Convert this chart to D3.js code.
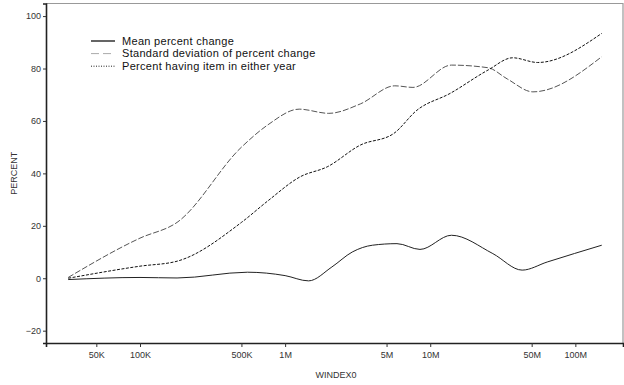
<!DOCTYPE html>
<html>
<head>
<meta charset="utf-8">
<script src="https://cdn.jsdelivr.net/npm/d3@7"></script>
<style>
  body { margin: 0; background: #fff; }
  text { font-family: "Liberation Sans", Arial, sans-serif; }
</style>
</head>
<body>
<div id="chart-area"></div>
<script>
// values
const meanX = [32e3, 1e5, 1.8e5, 5.5e5, 1e6, 1.45e6, 2.1e6, 2.9e6, 4e6, 5.9e6, 8.5e6, 1.4e7, 2.7e7, 4.3e7, 6.4e7, 1.52e8]
const meanY = [-0.5, 0.3, 0.1, 2.3, 1.0, -1.0, 4.3, 10, 12.6, 13.2, 11.0, 16.4, 9.4, 3.1, 6.2, 12.6]

const sdX = [32e3, 1e5, 1.8e5, 5e5, 7.6e5, 1.25e6, 2e6, 3.3e6, 5.7e6, 7.6e6, 1.4e7, 2.5e7, 3.4e7, 5.1e7, 1.52e8]
const sdY = [0.3, 15.3, 21.3, 50, 58.5, 64.5, 62.9, 66.5, 73.4, 72.8, 81.3, 80.3, 76, 71.1, 84.5]

const pctX = [32e3, 1e5, 1.8e5, 5e5, 7.6e5, 1.27e6, 1.95e6, 3.3e6, 5.6e6, 8.1e6, 1.37e7, 2.5e7, 3.7e7, 5.5e7, 1.52e8]
const pctY = [0, 4.6, 6.5, 21.3, 29.5, 38.7, 42.5, 50.8, 55.2, 64.1, 70.5, 79.4, 84.1, 82.3, 93.4]

const xTicks = [5e4, 1e5, 5e5, 1e6, 5e6, 1e7, 5e7, 1e8]
const xTickLabels = ["50K", "100K", "500K", "1M", "5M", "10M", "50M", "100M"]
const yTicks = [-20, 0, 20, 40, 60, 80, 100]

const seriesNames = ["Mean percent change", "Standard deviation of percent change", "Percent having item in either year"]

const W = 624, H = 385
const plot = { left: 46, right: 623, top: 3.5, bottom: 343 }

const svg = d3.select("#chart-area").append("svg")
	.attr("width", W)
	.attr("height", H)

const x = d3.scaleLog()
	.domain([22.5e3, 213e6])
	.range([plot.left, plot.right])

const y = d3.scaleLinear()
	.domain([-24.7, 104.8])
	.range([plot.bottom, plot.top])

// grey frame on top and right
svg.append("path")
	.attr("d", `M${plot.left},${plot.top}H${plot.right}V${plot.bottom}`)
	.attr("fill", "none")
	.attr("stroke", "#999")
	.attr("stroke-width", 1.2)

const axisB = svg.append("g")
	.attr("transform", `translate(0,${plot.bottom})`)
	.call(d3.axisBottom(x).tickValues(xTicks).tickFormat((d, i) => xTickLabels[i]).tickSize(4).tickPadding(5))
const axisL = svg.append("g")
	.attr("transform", `translate(${plot.left},0)`)
	.call(d3.axisLeft(y).tickValues(yTicks).tickSize(3).tickPadding(2))

for (const a of [axisB, axisL]) {
	a.select(".domain").attr("stroke", "#222").attr("stroke-width", 1.6)
	a.selectAll(".tick line").attr("stroke", "#333")
	a.selectAll(".tick text").attr("font-size", "9px").attr("fill", "#333")
		.style("font-family", "'Liberation Sans', Arial, sans-serif")
}

svg.append("text")
	.attr("x", 336)
	.attr("y", 378)
	.attr("text-anchor", "middle")
	.attr("font-size", "9px")
	.attr("fill", "#333")
	.text("WINDEX0")

svg.append("text")
	.attr("transform", `translate(17,${(plot.top + plot.bottom) / 2}) rotate(-90)`)
	.attr("text-anchor", "middle")
	.attr("font-size", "9px")
	.attr("fill", "#333")
	.text("PERCENT")

const line = d3.line()
	.x(d => x(d[0]))
	.y(d => y(d[1]))
	.curve(d3.curveMonotoneX)

const series = [
	{ xs: meanX, ys: meanY, stroke: "#222", dash: null },
	{ xs: sdX, ys: sdY, stroke: "#555", dash: "6,2" },
	{ xs: pctX, ys: pctY, stroke: "#111", dash: "3,1.5" }
]

series.forEach(s => {
	svg.append("path")
		.datum(s.xs.map((v, i) => [v, s.ys[i]]))
		.attr("d", line)
		.attr("fill", "none")
		.attr("stroke", s.stroke)
		.attr("stroke-width", 1)
		.attr("stroke-dasharray", s.dash)
})

// legend
const legendStyles = [
	{ stroke: "#111", dash: null, width: 1.3 },
	{ stroke: "#aaa", dash: "8,4", width: 1 },
	{ stroke: "#222", dash: "1,1.5", width: 1 }
]
const legend = svg.append("g")
legend.selectAll("g")
	.data(seriesNames)
	.join("g")
	.attr("transform", (d, i) => `translate(91,${41 + i * 12.6})`)
	.each(function (d, i) {
		const g = d3.select(this)
		g.append("line")
			.attr("x1", 0).attr("x2", 24)
			.attr("stroke", legendStyles[i].stroke)
			.attr("stroke-width", legendStyles[i].width)
			.attr("stroke-dasharray", legendStyles[i].dash)
		g.append("text")
			.attr("x", 31)
			.attr("dy", "0.35em")
			.attr("font-size", "11px")
			.attr("letter-spacing", "0.3px")
			.attr("fill", "#111")
			.text(d)
	})
</script>
</body>
</html>
